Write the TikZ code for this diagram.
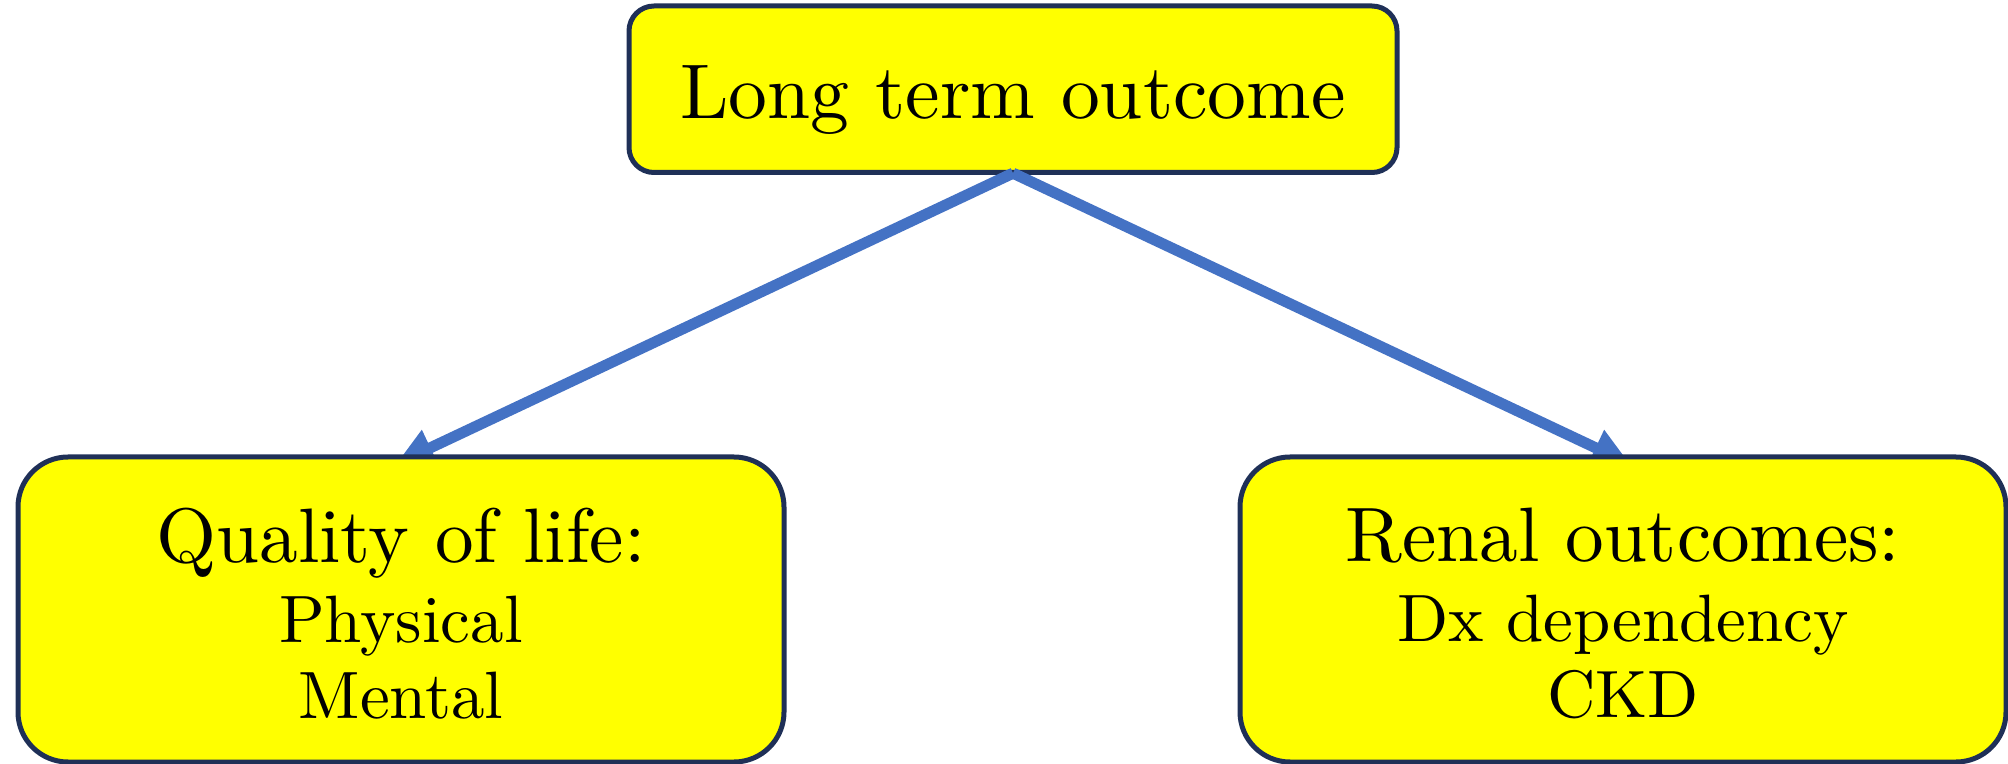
\documentclass[tikz,border=0pt]{standalone}
\usepackage{fontspec}
\setmainfont{lmroman10-regular}[Extension=.otf]
\usetikzlibrary{arrows.meta}
\definecolor{boxyellow}{HTML}{FFFF00}
\definecolor{boxborder}{HTML}{1F3057}
\definecolor{arrowblue}{HTML}{4472C4}
\begin{document}
\begin{tikzpicture}[x=0.5pt,y=-0.5pt,
  outbox/.style={draw=boxborder, fill=boxyellow, line width=2.5pt, inner sep=0pt, align=center},
  link/.style={draw=arrowblue, line width=5.5pt, line cap=butt, -{Triangle[length=19pt,width=18.5pt]}}]
\useasboundingbox (0,0) rectangle (2008,764);
\node[outbox, rounded corners=12.5pt, minimum width=384pt, minimum height=83.25pt,
      text height=30pt, text depth=1.2pt, font=\fontsize{38.8}{40}\selectfont] (top) at (1013,89.25) {Long term outcome};
\coordinate (ltip) at (396,464);
\coordinate (rtip) at (1630,464);
\draw[link] ([yshift=0.9pt]top.south) -- (ltip);
\draw[link] ([yshift=0.9pt]top.south) -- (rtip);
\node[outbox, rounded corners=25pt, minimum width=383pt, minimum height=152.5pt,
      text height=109.2pt, font=\fontsize{33.5}{38}\selectfont] (qol) at (401,609.5)
      {{\fontsize{38.6}{38}\selectfont Quality of life:}\\[2pt] Physical\\ Mental};
\node[outbox, rounded corners=25pt, minimum width=383pt, minimum height=152.5pt,
      text height=109.2pt, font=\fontsize{33.5}{38}\selectfont] (renal) at (1623,609.5)
      {{\fontsize{38.6}{38}\selectfont Renal outcomes:}\\[2pt] Dx dependency\\ CKD};
\end{tikzpicture}
\end{document}
